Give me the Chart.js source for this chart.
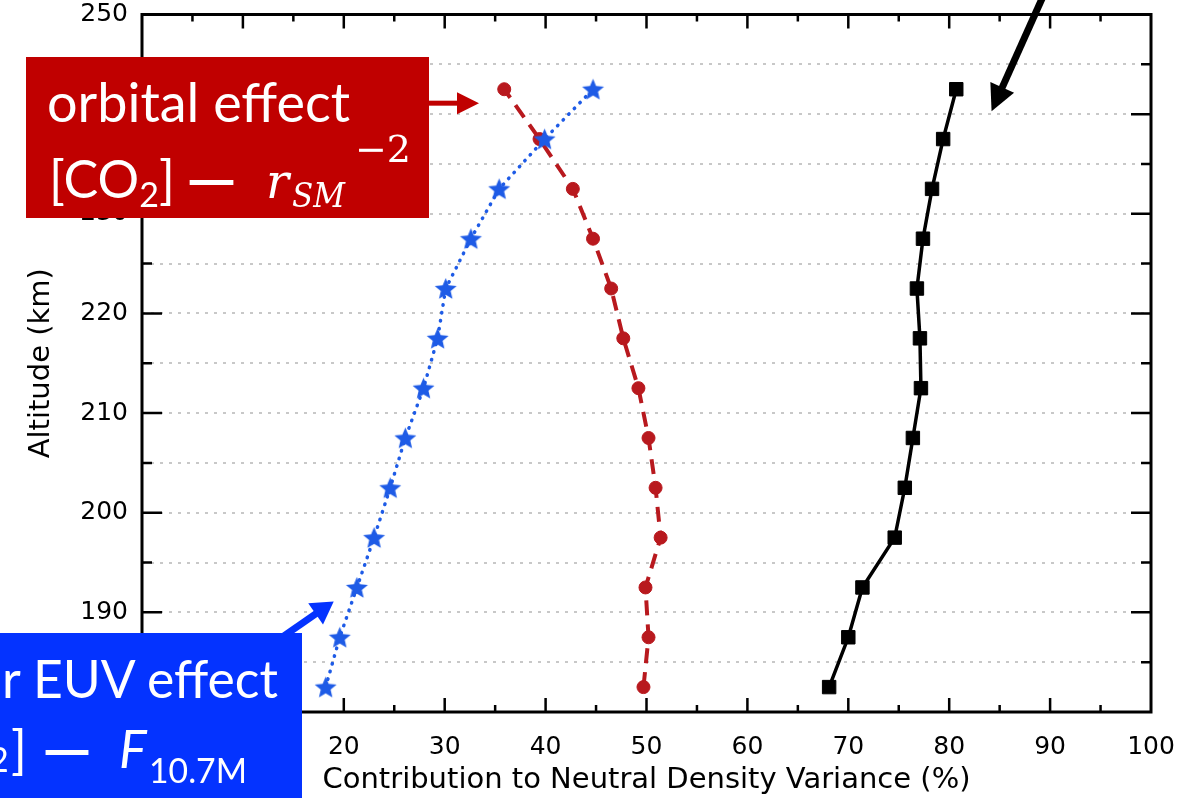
<!DOCTYPE html>
<html>
<head>
<meta charset="utf-8">
<script src="https://cdn.jsdelivr.net/npm/chart.js@4.4.1/dist/chart.umd.min.js"></script>
<style>
  html, body { margin: 0; padding: 0; background: #fff; }
  #wrap { position: relative; width: 1190px; height: 798px; overflow: hidden; }
  #myChart, #notes { position: absolute; left: 0; top: 0; }
</style>
</head>
<body>
<div id="wrap">
  <canvas id="myChart" width="1190" height="798"></canvas>
  <svg id="notes" width="1190" height="798" xmlns="http://www.w3.org/2000/svg">
    <!-- red box -->
    <rect x="26" y="57" width="403" height="161" fill="#C00000"/>
    <text x="47" y="122" font-family="Lato" font-size="54" fill="#fff" textLength="303" lengthAdjust="spacingAndGlyphs">orbital effect</text>
    <text x="49" y="198" font-family="Lato" font-size="52" fill="#fff">[CO<tspan font-size="34" dy="9">2</tspan><tspan dy="-9">]</tspan></text>
    <text x="186" y="198" font-family="Lato" font-weight="900" font-size="52" fill="#fff" textLength="51" lengthAdjust="spacingAndGlyphs">—</text>
    <text x="266" y="198" font-family="DejaVu Serif" font-style="italic" font-size="48" fill="#fff">r</text>
    <text x="292" y="207" font-family="DejaVu Serif" font-style="italic" font-size="33" fill="#fff" textLength="53" lengthAdjust="spacingAndGlyphs">SM</text>
    <text x="355" y="162" font-family="DejaVu Serif" font-size="38" fill="#fff">−2</text>
    <!-- blue box -->
    <rect x="0" y="633" width="302" height="170" fill="#0433FF"/>
    <text x="2" y="698" font-family="Lato" font-size="52" fill="#fff" textLength="276" lengthAdjust="spacingAndGlyphs">r EUV effect</text>
    <text x="-11" y="772" font-family="Lato" font-size="34" fill="#fff">2</text>
    <text x="11" y="768" font-family="Lato" font-size="52" fill="#fff">]</text>
    <text x="42" y="768" font-family="Lato" font-weight="900" font-size="52" fill="#fff" textLength="50" lengthAdjust="spacingAndGlyphs">—</text>
    <text x="119" y="768" font-family="Lato" font-style="italic" font-size="52" fill="#fff">F</text>
    <text x="149" y="783" font-family="Lato" font-size="35" fill="#fff" textLength="98" lengthAdjust="spacingAndGlyphs">10.7M</text>
  </svg>
</div>
<script>
// altitude bins (km)
var altitudes = [182.5, 187.5, 192.5, 197.5, 202.5, 207.5, 212.5, 217.5, 222.5, 227.5, 232.5, 237.5, 242.5];
// contribution to neutral density variance (%)
var euvEffect = [18.2, 19.6, 21.3, 23.0, 24.6, 26.1, 27.9, 29.3, 30.1, 32.6, 35.4, 39.9, 44.7];
var orbitalEffect = [49.7, 50.2, 49.9, 51.4, 50.9, 50.2, 49.2, 47.7, 46.5, 44.7, 42.7, 39.4, 35.9];
var totalEffect = [68.1, 70.0, 71.4, 74.6, 75.6, 76.4, 77.2, 77.1, 76.8, 77.4, 78.3, 79.4, 80.7];

var blue = "#1E5BE6";
var red = "#B8191E";

function pts(vals) {
    return altitudes.map(function (a, i) { return { x: vals[i], y: a }; });
}

function starImage(color, r) {
    var s = Math.ceil(r * 2 + 2);
    var c = document.createElement("canvas");
    c.width = s; c.height = s;
    var g = c.getContext("2d");
    g.fillStyle = color;
    g.beginPath();
    for (var i = 0; i < 10; i++) {
        var rad = i % 2 === 0 ? r : r * 0.45;
        var a = -Math.PI / 2 + i * Math.PI / 5;
        var px = s / 2 + rad * Math.cos(a), py = s / 2 + 1 + rad * Math.sin(a);
        if (i === 0) g.moveTo(px, py); else g.lineTo(px, py);
    }
    g.closePath();
    g.fill();
    return c;
}

// annotation arrows, in data units
var arrows = [
    { from: [28.4, 241.1], to: [33.4, 241.1], color: "#C00000", width: 5, len: 22, half: 11 },
    { from: [14.0, 187.6], to: [19.0, 191.1], color: "#0433FF", width: 7, len: 22, half: 13 },
    { from: [89.6, 252.5], to: [84.2, 240.3], color: "#000000", width: 7, len: 26, half: 13 }
];

var frame = {
    id: "frame",
    afterDraw: function (chart) {
        var ctx = chart.ctx, a = chart.chartArea;
        var xs = chart.scales.x, ys = chart.scales.y;
        ctx.save();
        ctx.strokeStyle = "#000";
        ctx.lineWidth = 2.5;
        ctx.beginPath();
        for (var v = 5; v < 100; v += 5) {
            var px = xs.getPixelForValue(v);
            var l = v % 10 === 0 ? 14 : 7;
            ctx.moveTo(px, a.bottom); ctx.lineTo(px, a.bottom - l);
            ctx.moveTo(px, a.top); ctx.lineTo(px, a.top + l);
        }
        for (var h = 185; h < 250; h += 5) {
            var py = ys.getPixelForValue(h);
            var m = h % 10 === 0 ? 20 : 10;
            ctx.moveTo(a.left, py); ctx.lineTo(a.left + m, py);
            ctx.moveTo(a.right, py); ctx.lineTo(a.right - m, py);
        }
        ctx.stroke();
        ctx.lineWidth = 3;
        ctx.strokeRect(a.left, a.top, a.right - a.left, a.bottom - a.top);

        arrows.forEach(function (ar) {
            var x0 = xs.getPixelForValue(ar.from[0]), y0 = ys.getPixelForValue(ar.from[1]);
            var x1 = xs.getPixelForValue(ar.to[0]), y1 = ys.getPixelForValue(ar.to[1]);
            var ang = Math.atan2(y1 - y0, x1 - x0);
            var bx = x1 - ar.len * Math.cos(ang), by = y1 - ar.len * Math.sin(ang);
            ctx.strokeStyle = ar.color;
            ctx.fillStyle = ar.color;
            ctx.lineWidth = ar.width;
            ctx.lineCap = "butt";
            ctx.beginPath();
            ctx.moveTo(x0, y0); ctx.lineTo(bx + Math.cos(ang), by + Math.sin(ang));
            ctx.stroke();
            ctx.beginPath();
            ctx.moveTo(x1, y1);
            ctx.lineTo(bx + ar.half * Math.sin(ang), by - ar.half * Math.cos(ang));
            ctx.lineTo(bx - ar.half * Math.sin(ang), by + ar.half * Math.cos(ang));
            ctx.closePath();
            ctx.fill();
        });
        ctx.restore();
    }
};

var tickFont = { family: "DejaVu Sans", size: 25 };

new Chart("myChart", {
    type: "scatter",
    data: {
        datasets: [{
            label: "solar EUV effect",
            data: pts(euvEffect),
            showLine: true,
            borderColor: blue,
            borderWidth: 3.5,
            borderDash: [0.5, 7.5],
            borderCapStyle: "round",
            pointStyle: starImage(blue, 11.5),
            pointRadius: 11,
            order: 0
        }, {
            label: "orbital effect",
            data: pts(orbitalEffect),
            showLine: true,
            borderColor: red,
            backgroundColor: red,
            borderWidth: 4,
            borderDash: [15, 9],
            pointStyle: "circle",
            pointRadius: 6.5,
            pointBorderWidth: 1,
            order: 1
        }, {
            label: "total",
            data: pts(totalEffect),
            showLine: true,
            borderColor: "#000",
            backgroundColor: "#000",
            borderWidth: 3.5,
            pointStyle: "rect",
            pointRadius: 9.5,
            pointBorderWidth: 1,
            order: 2
        }]
    },
    options: {
        responsive: false,
        animation: false,
        layout: { padding: { left: 0, right: 39, top: 14, bottom: 0 } },
        plugins: {
            legend: { display: false },
            tooltip: { enabled: false }
        },
        scales: {
            x: {
                type: "linear",
                min: 0,
                max: 100,
                grid: { display: false, drawTicks: false },
                border: { display: false },
                ticks: {
                    stepSize: 5,
                    autoSkip: false,
                    maxRotation: 0,
                    padding: 20,
                    color: "#000",
                    font: tickFont,
                    callback: function (v) { return v % 10 === 0 ? v : ""; }
                },
                title: {
                    display: true,
                    text: "Contribution to Neutral Density Variance (%)",
                    color: "#000",
                    font: { family: "DejaVu Sans", size: 29 },
                    padding: { top: 0, bottom: 0 }
                },
                afterFit: function (s) {
                    s.height = 86;
                    s.paddingLeft = 0;
                    s.paddingRight = 0;
                }
            },
            y: {
                type: "linear",
                min: 180,
                max: 250,
                grid: { color: "#c8c8c8", lineWidth: 2, drawTicks: false },
                border: { display: false, dash: [3, 6] },
                ticks: {
                    stepSize: 5,
                    autoSkip: false,
                    padding: 14,
                    color: "#000",
                    font: tickFont,
                    callback: function (v) { return v % 10 === 0 ? v : ""; }
                },
                title: {
                    display: true,
                    text: "Altitude (km)",
                    color: "#000",
                    font: { family: "DejaVu Sans", size: 29 },
                    padding: { top: 24, bottom: 0 }
                },
                afterFit: function (s) {
                    s.width = 142;
                    s.paddingTop = 0;
                    s.paddingBottom = 0;
                }
            }
        }
    },
    plugins: [frame]
});
</script>
</body>
</html>
